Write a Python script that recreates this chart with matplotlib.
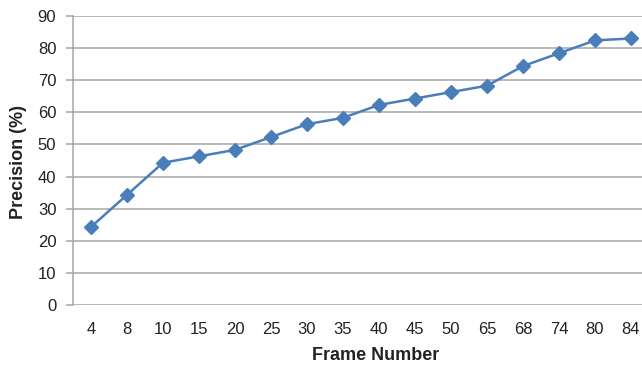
import matplotlib
matplotlib.use("Agg")
import matplotlib.pyplot as plt
import numpy as np

frames = ["4", "8", "10", "15", "20", "25", "30", "35", "40", "45", "50", "65", "68", "74", "80", "84"]
precision = [24.3, 34.3, 44.3, 46.3, 48.3, 52.3, 56.3, 58.3, 62.3, 64.3, 66.3, 68.3, 74.4, 78.4, 82.4, 83.0]
yticks = [0, 10, 20, 30, 40, 50, 60, 70, 80, 90]

plt.rcParams['font.family'] = ['Liberation Sans', 'DejaVu Sans']

fig = plt.figure(figsize=(6.42, 3.69), dpi=100)
W, H = 642, 369
left, right, top, bottom = 73, 649, 16, 305
ax = fig.add_axes([left / W, (H - bottom) / H, (right - left) / W, (bottom - top) / H])

x = np.arange(len(frames))
ax.set_xlim(-0.5, len(frames) - 0.5)
ax.set_ylim(0, 90)
ax.set_yticks(yticks)
ax.yaxis.grid(True, color='#a6a6a6', linewidth=1.1)
ax.set_axisbelow(True)
for s in ['top', 'right', 'bottom']:
    ax.spines[s].set_visible(False)
ax.spines['left'].set_color('#a6a6a6')
ax.spines['left'].set_linewidth(1.1)
ax.tick_params(axis='y', length=5, width=1.1, color='#a6a6a6', labelsize=12, labelcolor='#222222', pad=7)
ax.tick_params(axis='x', length=0, labelsize=12, labelcolor='#222222', pad=12)
ax.set_xticks(x)
ax.set_xticklabels(frames)

ax.plot(x, precision, color='#4a7ebb', linewidth=1.8, marker='D', markersize=7,
        markerfacecolor='#4a7ebb', markeredgecolor='#4a7ebb', clip_on=False, zorder=3)

fig.text(18.5 / W, 1 - 162 / H, 'Precision (%)', fontsize=13, fontweight='bold',
         color='#222222', ha='center', va='center', rotation=90)
fig.text(376 / W, 1 - 355 / H, 'Frame Number', fontsize=13, fontweight='bold',
         color='#222222', ha='center', va='center')

fig.savefig('out.png', dpi=100)
